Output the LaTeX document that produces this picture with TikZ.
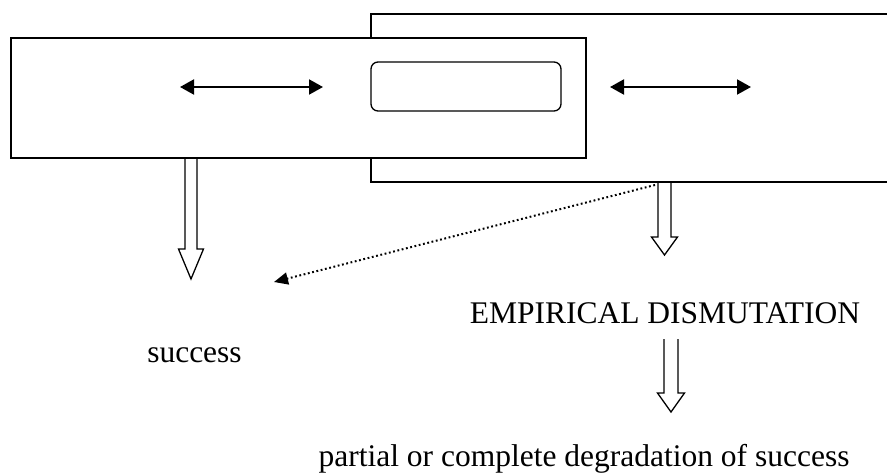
\documentclass[tikz,border=0pt]{standalone}
\usepackage{fontspec}
\setmainfont{Liberation Serif}
\usetikzlibrary{arrows.meta}
\newcommand{\hollowarrow}[6]{% name, x, ytop, yheadbase, ytip, halfshaft
  \draw[hollow] (#2-#6,#3) -- (#2-#6,#4) -- (#2-#6-6.5,#4) -- (#2,#5) -- (#2+#6+6.5,#4) -- (#2+#6,#4) -- (#2+#6,#3);
  \coordinate (#1) at (#2,#5);
}
\tikzset{
  box/.style={draw, line width=1.3pt, fill=white, inner sep=0pt, outer sep=0pt},
  twoway/.style={line width=2pt, {Triangle[length=14pt,width=15pt]}-{Triangle[length=14pt,width=15pt]}},
  hollow/.style={line width=1.3pt},
  dotarrow/.style={line width=2pt, dash pattern=on 1.8pt off 2.6pt, -{Triangle[length=14pt,width=12pt]}},
  lbl/.style={inner sep=0pt, anchor=base, font=\fontsize{31.5}{36}\selectfont}
}
\begin{document}
\begin{tikzpicture}[x=1pt,y=-1pt]
\clip (0,0) rectangle (887,474);
\fill[white] (0,0) rectangle (887,474);
\node[box, minimum width=540pt, minimum height=168pt] (right) at (641,98) {};
\node[box, minimum width=575pt, minimum height=120pt] (left) at (298.5,98) {};
\node[box, rounded corners=7pt, minimum width=190pt, minimum height=49pt] (inner) at (466,86.5) {};
\coordinate (l1) at (180,87); \coordinate (l2) at (323,87);
\coordinate (r1) at (610,87); \coordinate (r2) at (751,87);
\draw[twoway] (l1) -- (l2);
\draw[twoway] (r1) -- (r2);
\hollowarrow{a1}{191}{158}{249}{279}{6}
\hollowarrow{a2}{664.5}{182}{237}{255}{6.5}
\hollowarrow{a3}{671}{339}{393}{412}{7}
\coordinate (dstart) at (655,185);
\coordinate (dend) at (274,282);
\draw[dotarrow] (dstart) -- (dend);
\node[lbl] (emp) at (665,323) {EMPIRICAL DISMUTATION};
\node[lbl] (succ) at (194.5,362) {success};
\node[lbl] (deg) at (584,466) {partial or complete degradation of success};
\end{tikzpicture}
\end{document}
